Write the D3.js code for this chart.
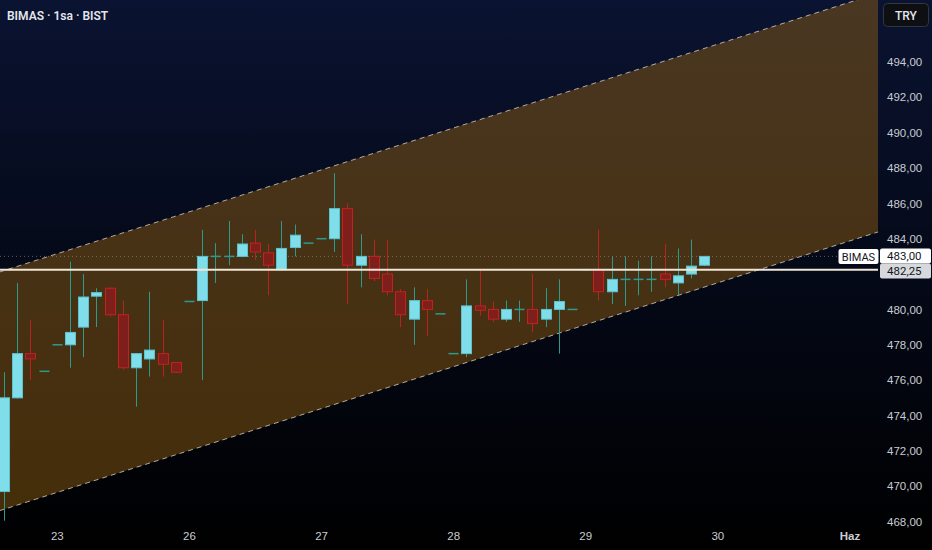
<!DOCTYPE html>
<html><head><meta charset="utf-8">
<script src="https://cdn.jsdelivr.net/npm/d3@7"></script>
<style>
html,body{margin:0;padding:0;background:#000;overflow:hidden}
svg{display:block;font-family:Roboto,"Noto Sans",sans-serif}
</style></head>
<body>
<svg id="chart" width="932" height="550"></svg>
<script>
// ---- data ----
const title = "BIMAS · 1sa · BIST";
const currency = "TRY";
const openP  = [469.7,475.0,477.5,476.5,478.0,478.0,479.0,480.75,481.2,479.7,476.7,477.2,477.5,477.0,480.45,480.5,483.0,483.0,483.0,483.75,483.2,482.25,483.5,483.75,484.0,484.0,485.7,482.5,483.0,482.0,481.0,479.45,480.5,479.75,477.5,477.5,480.2,480.0,479.45,480.0,480.0,479.45,480.0,480.0,482.25,482.25,481.0,481.7,481.7,481.7,482.0,481.5,482.0,482.5];
const highP  = [476.45,481.5,479.4,476.5,478.0,482.7,482.0,481.2,481.25,480.5,477.5,481.0,479.4,477.0,480.45,484.5,483.75,485.0,484.25,484.5,483.7,485.0,484.8,483.75,484.0,487.7,486.0,484.25,483.95,483.95,481.15,481.25,481.15,479.75,477.5,481.7,482.25,480.45,480.5,480.5,482.0,481.2,481.7,480.0,482.25,484.5,483.0,483.0,482.75,483.0,483.7,483.45,483.95,483.0];
const lowP   = [468.05,474.95,476.0,476.5,478.0,476.7,477.3,479.0,479.6,476.6,474.5,476.2,476.2,476.4,480.45,476.0,481.5,482.5,482.95,482.8,480.8,482.2,483.0,483.75,484.0,483.25,480.3,481.25,481.6,480.8,479.0,478.0,478.5,479.75,477.5,477.3,479.65,479.3,479.3,479.3,478.7,479.0,477.5,480.0,482.25,480.5,480.3,480.2,480.8,481.0,481.25,480.8,481.75,482.45];
const closeP = [475.0,477.5,477.2,476.5,478.0,478.7,480.7,480.95,479.7,476.7,477.5,477.7,476.9,476.45,480.45,483.0,483.0,483.0,483.7,483.25,482.5,483.45,484.2,483.75,484.0,485.7,482.5,483.0,481.75,481.0,479.7,480.5,480.0,479.75,477.5,480.2,479.95,479.45,480.0,480.0,479.2,480.0,480.45,480.0,482.25,481.0,481.7,481.7,481.7,481.7,481.7,481.9,482.45,483.0];
const dayTickIndex = [4,14,24,34,44,54,64];
const dayTickLabel = ["23","26","27","28","29","30","Haz"];
const priceTicks = [468,470,472,474,476,478,480,484,486,488,490,492,494];
const channelIndex = [-1,67];
const channelTop = [481.96,498.08];
const channelBottom = [468.46,484.58];
const lastPrice = 483.00;
const levelPrice = 482.25;
const symbolName = "BIMAS";

// ---- layout ----
const W = 932, H = 550, plotR = 878, plotB = 527;
const svg = d3.select("#chart");
const defs = svg.append("defs");
const grad = defs.append("linearGradient").attr("id","bg").attr("x1",0).attr("y1",0).attr("x2",0).attr("y2",1);
grad.append("stop").attr("offset","0%").attr("stop-color","#0a1331");
grad.append("stop").attr("offset","45%").attr("stop-color","#050a1a");
grad.append("stop").attr("offset","100%").attr("stop-color","#000000");
svg.append("rect").attr("width",W).attr("height",H).attr("fill","url(#bg)");
defs.append("clipPath").attr("id","plotclip").append("rect").attr("x",0).attr("y",0).attr("width",plotR).attr("height",plotB);

const x = d3.scaleLinear().domain([0,64]).range([4, 4 + 64*13.21]);
const y = d3.scaleLinear().domain([468,494]).range([521.6, 61.9]);

const plot = svg.append("g").attr("clip-path","url(#plotclip)");

// channel
const chan = channelIndex.map((d,k)=>({i:d, t:channelTop[k], b:channelBottom[k]}));
plot.append("path").datum(chan)
  .attr("d", d3.area().x(d=>x(d.i)).y0(d=>y(d.b)).y1(d=>y(d.t)))
  .attr("fill","rgba(150,98,18,0.46)");
[ "t","b" ].forEach(k=>{
  plot.append("path").datum(chan)
    .attr("d", d3.line().x(d=>x(d.i)).y(d=>y(d[k])))
    .attr("fill","none").attr("stroke","rgba(215,205,195,0.8)").attr("stroke-width",1)
    .attr("stroke-dasharray","5,4");
});

// last price dotted line
plot.append("line").attr("x1",0).attr("x2",plotR).attr("y1",y(lastPrice)).attr("y2",y(lastPrice))
  .attr("stroke","rgba(170,160,150,0.55)").attr("stroke-width",1).attr("stroke-dasharray","1,3");

// candles
const candles = openP.map((o,i)=>({i,o,h:highP[i],l:lowP[i],c:closeP[i]}));
const upFill="#80deea", upStroke="#5cc3cf", upWick="#2e9a8e";
const dnFill="#7e1f1c", dnStroke="#c2221f", dnWick="#b8231f";
const bw = 10;
const cg = plot.append("g");
cg.selectAll("line.wick").data(candles).join("line")
  .attr("x1",d=>Math.round(x(d.i))+0.5).attr("x2",d=>Math.round(x(d.i))+0.5)
  .attr("y1",d=>y(d.h)).attr("y2",d=>y(d.l))
  .attr("stroke",d=>d.c<d.o?dnWick:upWick).attr("stroke-width",1);
cg.selectAll("rect.body").data(candles.filter(d=>d.c!==d.o)).join("rect")
  .attr("x",d=>Math.round(x(d.i))+0.5-bw/2).attr("width",bw)
  .attr("y",d=>y(Math.max(d.o,d.c))).attr("height",d=>Math.max(1,Math.abs(y(d.o)-y(d.c))))
  .attr("fill",d=>d.c<d.o?dnFill:upFill)
  .attr("stroke",d=>d.c<d.o?dnStroke:upStroke).attr("stroke-width",1);
cg.selectAll("line.doji").data(candles.filter(d=>d.c===d.o)).join("line")
  .attr("x1",d=>Math.round(x(d.i))+0.5-bw/2).attr("x2",d=>Math.round(x(d.i))+0.5+bw/2)
  .attr("y1",d=>y(d.c)).attr("y2",d=>y(d.c))
  .attr("stroke",upWick).attr("stroke-width",1.5);

// horizontal level
plot.append("line").attr("x1",0).attr("x2",plotR).attr("y1",y(levelPrice)).attr("y2",y(levelPrice))
  .attr("stroke","#efe6d6").attr("stroke-width",2);

// ---- price axis ----
const ya = d3.axisRight(y).tickValues(priceTicks).tickSize(0)
  .tickFormat(d=>d3.format(".2f")(d).replace(".",","));
const yg = svg.append("g").attr("transform","translate(887,0)").call(ya);
yg.select(".domain").remove();
yg.selectAll("text").attr("x",0).attr("fill","#c9ccd3").attr("font-size",11.5).attr("text-anchor","start");

// ---- time axis ----
const xa = d3.axisBottom(x).tickValues(dayTickIndex).tickSize(0)
  .tickFormat((d,k)=>dayTickLabel[k]);
const xg = svg.append("g").attr("transform","translate(0,529)").call(xa);
xg.select(".domain").remove();
xg.selectAll("text").attr("fill","#c9ccd3").attr("font-size",11.5)
  .attr("font-weight",(d,k)=>dayTickLabel[k]==="Haz"?700:400);

// ---- labels ----
svg.append("text").attr("x",7).attr("y",19.5).text(title)
  .attr("fill","#e4e6ec").attr("font-size",12).attr("font-weight",600);

// currency button
svg.append("rect").attr("x",883.5).attr("y",3.5).attr("width",45).attr("height",23).attr("rx",4)
  .attr("fill","#0e0f13").attr("stroke","#34363d");
svg.append("text").attr("x",906).attr("y",19.5).attr("text-anchor","middle").text(currency)
  .attr("fill","#e4e6ec").attr("font-size",12).attr("font-weight",500);

// symbol + last price boxes
svg.append("rect").attr("x",838.5).attr("y",249).attr("width",40).attr("height",15).attr("rx",2)
  .attr("fill","#ffffff");
svg.append("text").attr("x",858.5).attr("y",260.5).attr("text-anchor","middle").text(symbolName)
  .attr("fill","#131722").attr("font-size",11);
svg.append("rect").attr("x",880).attr("y",248.5).attr("width",51).attr("height",15).attr("rx",2)
  .attr("fill","#ffffff");
svg.append("text").attr("x",887).attr("y",260.3).text(d3.format(".2f")(lastPrice).replace(".",","))
  .attr("fill","#131722").attr("font-size",11.5);
svg.append("rect").attr("x",880).attr("y",263.5).attr("width",51).attr("height",15).attr("rx",2)
  .attr("fill","#d6d8dc");
svg.append("text").attr("x",887).attr("y",275.3).text(d3.format(".2f")(levelPrice).replace(".",","))
  .attr("fill","#131722").attr("font-size",11.5);
</script>
</body></html>
